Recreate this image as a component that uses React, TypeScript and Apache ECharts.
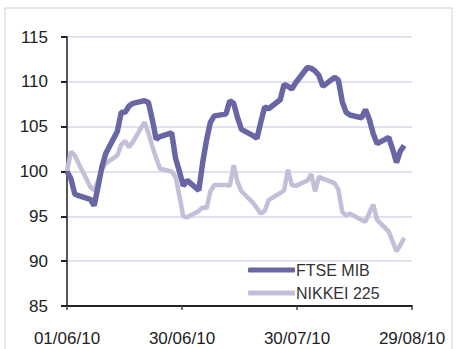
import React, { useEffect, useRef } from "react";
import * as echarts from "echarts";

const tradingDates = [
  "2010-06-01","2010-06-02","2010-06-03","2010-06-04",
  "2010-06-07","2010-06-08","2010-06-09","2010-06-10","2010-06-11",
  "2010-06-14","2010-06-15","2010-06-16","2010-06-17","2010-06-18",
  "2010-06-21","2010-06-22","2010-06-23","2010-06-24","2010-06-25",
  "2010-06-28","2010-06-29","2010-06-30","2010-07-01","2010-07-02",
  "2010-07-05","2010-07-06","2010-07-07","2010-07-08","2010-07-09",
  "2010-07-12","2010-07-13","2010-07-14","2010-07-15","2010-07-16",
  "2010-07-19","2010-07-20","2010-07-21","2010-07-22","2010-07-23",
  "2010-07-26","2010-07-27","2010-07-28","2010-07-29","2010-07-30",
  "2010-08-02","2010-08-03","2010-08-04","2010-08-05","2010-08-06",
  "2010-08-09","2010-08-10","2010-08-11","2010-08-12","2010-08-13",
  "2010-08-16","2010-08-17","2010-08-18","2010-08-19","2010-08-20",
  "2010-08-23","2010-08-24","2010-08-25","2010-08-26","2010-08-27",
];

const ftseMib = [
  100.0, 99.2, 97.5, 97.3,
  96.9, 96.2, 98.3, 100.5, 102.0,
  104.5, 106.6, 106.6, 107.3, 107.6,
  107.9, 107.7, 105.8, 103.6, 103.9,
  104.3, 101.5, 100.0, 98.4, 99.0,
  97.9, 101.0, 103.5, 105.5, 106.2,
  106.4, 107.9, 107.6, 106.0, 104.7,
  104.0, 103.7, 105.5, 107.2, 107.0,
  108.0, 109.7, 109.5, 109.2, 109.9,
  111.6, 111.5, 111.2, 110.7, 109.5,
  110.5, 110.2, 107.8, 106.6, 106.3,
  106.0, 106.9, 105.8, 104.2, 103.1,
  103.8, 102.5, 101.0, 102.3, 102.9,
];

const nikkei225 = [
  100.0, 102.2, 101.8, 100.9,
  98.3, 97.9, 99.0, 100.2, 100.9,
  101.8, 103.0, 103.4, 102.7, 103.3,
  105.5, 104.3, 102.8, 101.5, 100.3,
  100.0, 99.4, 97.3, 95.0, 94.9,
  95.6, 96.0, 95.9, 97.8, 98.5,
  98.5, 98.4, 100.7, 98.8, 97.8,
  96.5, 95.9, 95.3, 95.6, 96.8,
  97.6, 97.9, 100.2, 98.5, 98.4,
  99.0, 99.7, 97.8, 99.4, 99.2,
  98.7, 98.0, 95.5, 95.1, 95.3,
  94.6, 94.4, 95.4, 96.3, 94.6,
  93.3, 92.2, 91.1, 91.8, 92.6,
];

const startDate = "2010-06-01";
const endDate = "2010-08-29";
const yTicks = [85, 90, 95, 100, 105, 110, 115];

const DAY = 86400000;
const toDay = (s: string) => (Date.parse(s + "T00:00:00Z") - Date.parse(startDate + "T00:00:00Z")) / DAY;
const totalDays = toDay(endDate);
const fmtDay = (v: number) => {
  const d = new Date(Date.parse(startDate + "T00:00:00Z") + Math.floor(v + 1e-6) * DAY);
  const dd = String(d.getUTCDate()).padStart(2, "0");
  const mm = String(d.getUTCMonth() + 1).padStart(2, "0");
  const yy = String(d.getUTCFullYear() % 100).padStart(2, "0");
  return `${dd}/${mm}/${yy}`;
};

export default function App() {
  const ref = useRef<HTMLDivElement>(null);
  useEffect(() => {
    if (!ref.current) return;
    const chart = echarts.init(ref.current, undefined, { renderer: "svg" });
    const font = "'Liberation Sans', Arial, sans-serif";
    chart.setOption({
      animation: false,
      backgroundColor: "#ffffff",
      graphic: [
        {
          type: "rect",
          shape: { x: 5, y: 8, width: 447, height: 346 },
          style: { fill: "none", stroke: "#e2e2e2", lineWidth: 1.5 },
          silent: true,
          z: -10,
        },
      ],
      grid: { left: 67, right: 45, top: 37, bottom: 43, containLabel: false },
      legend: {
        orient: "vertical",
        left: 243,
        top: 257,
        itemGap: 7,
        itemWidth: 47,
        itemHeight: 5,
        icon: "roundRect",
        textStyle: { fontFamily: font, fontSize: 16, color: "#333333", padding: [0, 0, 0, -4] },
        data: ["FTSE MIB", "NIKKEI 225"],
      },
      xAxis: {
        type: "value",
        min: 0,
        max: totalDays,
        interval: totalDays / 3,
        axisLine: { show: true, lineStyle: { color: "#222222", width: 2 } },
        axisTick: { show: true, length: 4, lineStyle: { color: "#444444", width: 1.5 } },
        splitLine: { show: false },
        axisLabel: {
          formatter: (v: number) => fmtDay(v),
          fontFamily: font,
          fontSize: 17,
          color: "#222222",
          margin: 24,
        },
      },
      yAxis: {
        type: "value",
        min: yTicks[0],
        max: yTicks[yTicks.length - 1],
        interval: 5,
        axisLine: { show: true, lineStyle: { color: "#555555", width: 2 } },
        axisTick: { show: true, length: 6, lineStyle: { color: "#222222", width: 2 } },
        splitLine: { show: true, lineStyle: { color: "#d9d7ea", width: 1.5 } },
        axisLabel: { fontFamily: font, fontSize: 17, color: "#222222", margin: 19 },
      },
      series: [
        {
          name: "NIKKEI 225",
          type: "line",
          symbol: "none",
          color: "#c3bfd8",
          lineStyle: { color: "#c3bfd8", width: 4.5 },
          data: tradingDates.map((d, i) => [toDay(d), nikkei225[i]]),
          z: 2,
        },
        {
          name: "FTSE MIB",
          type: "line",
          symbol: "none",
          color: "#6966a5",
          lineStyle: { color: "#6966a5", width: 5.5 },
          data: tradingDates.map((d, i) => [toDay(d), ftseMib[i]]),
          z: 3,
        },
      ],
    });
    return () => chart.dispose();
  }, []);
  return <div ref={ref} style={{ width: 457, height: 349, position: "absolute", left: 0, top: 0 }} />;
}
